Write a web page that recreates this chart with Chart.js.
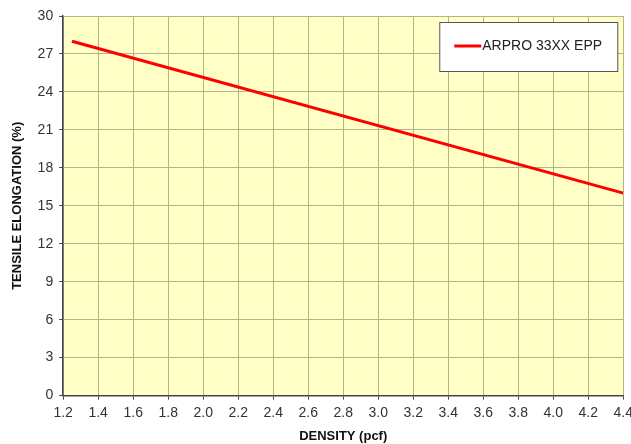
<!DOCTYPE html>
<html>
<head>
<meta charset="utf-8">
<script src="https://cdn.jsdelivr.net/npm/chart.js@4.4.0/dist/chart.umd.min.js"></script>
<style>
  html, body { margin: 0; padding: 0; background: #fff; overflow: hidden; }
  #wrap { width: 631px; height: 444px; overflow: hidden; }
</style>
</head>
<body>
<div id="wrap"><canvas id="chart" width="638" height="444"></canvas></div>
<script>
// ---------------- data ----------------
const seriesName = 'ARPRO 33XX EPP';
const density = [1.25, 4.4];
const elongation = [28, 16];
const xTicks = [1.2, 1.4, 1.6, 1.8, 2.0, 2.2, 2.4, 2.6, 2.8, 3.0, 3.2, 3.4, 3.6, 3.8, 4.0, 4.2, 4.4];
const yTicks = [0, 3, 6, 9, 12, 15, 18, 21, 24, 27, 30];

const FONT = '"Liberation Sans", Arial, sans-serif';

// plot background
const plotBg = {
  id: 'plotBg',
  beforeDraw(chart){
    const a = chart.chartArea, ctx = chart.ctx;
    ctx.save();
    ctx.fillStyle = '#ffffc6';
    ctx.fillRect(a.left, a.top, a.right - a.left, a.bottom - a.top);
    ctx.restore();
  }
};

// boxed legend inside the plot
const boxLegend = {
  id: 'boxLegend',
  afterDraw(chart){
    const ctx = chart.ctx, a = chart.chartArea;
    const ds = chart.data.datasets[0];
    const w = 178, h = 49;
    const x = a.right - w - 6, y = a.top + 6;
    ctx.save();
    ctx.fillStyle = '#ffffff';
    ctx.fillRect(x, y, w, h);
    ctx.strokeStyle = '#555555';
    ctx.lineWidth = 1;
    ctx.strokeRect(x + 0.5, y + 0.5, w, h);
    ctx.strokeStyle = ds.borderColor;
    ctx.lineWidth = 3;
    ctx.beginPath();
    ctx.moveTo(x + 15, y + 24);
    ctx.lineTo(x + 42, y + 24);
    ctx.stroke();
    ctx.fillStyle = '#222';
    ctx.font = '14px ' + FONT;
    ctx.textBaseline = 'middle';
    ctx.fillText(ds.label, x + 43, y + 24);
    ctx.restore();
  }
};

const ctx = document.getElementById('chart').getContext('2d');
new Chart(ctx, {
  type: 'scatter',
  data: {
    datasets: [{
      label: seriesName,
      data: density.map((d, i) => ({ x: d, y: elongation[i] })),
      showLine: true,
      borderColor: '#ff0000',
      backgroundColor: '#ff0000',
      borderWidth: 3,
      pointRadius: 0,
      tension: 0
    }]
  },
  options: {
    responsive: false,
    animation: false,
    layout: { padding: { left: 10, right: 3, top: 16, bottom: 0 } },
    plugins: { legend: { display: false }, tooltip: { enabled: false } },
    scales: {
      x: {
        type: 'linear',
        min: xTicks[0], max: xTicks[xTicks.length - 1],
        afterBuildTicks: s => { s.ticks = xTicks.map(v => ({ value: v })); },
        ticks: {
          callback: v => v.toFixed(1),
          color: '#333', font: { family: FONT, size: 14 }, padding: 5, maxRotation: 0
        },
        grid: { color: '#b4b48a', tickColor: '#444', tickLength: 4 },
        border: { color: '#444', width: 1.5 },
        title: {
          display: true, text: 'DENSITY (pcf)', color: '#111',
          font: { family: FONT, size: 13, weight: 'bold' }, padding: { top: 2, bottom: 0 }
        }
      },
      y: {
        min: yTicks[0], max: yTicks[yTicks.length - 1],
        afterBuildTicks: s => { s.ticks = yTicks.map(v => ({ value: v })); },
        ticks: { color: '#333', font: { family: FONT, size: 14 }, padding: 6 },
        grid: { color: '#b4b48a', tickColor: '#444', tickLength: 4 },
        border: { color: '#444', width: 1.5 },
        title: {
          display: true, text: 'TENSILE ELONGATION (%)', color: '#111',
          font: { family: FONT, size: 13, weight: 'bold' }, padding: { top: 0, bottom: 6 }
        }
      }
    }
  },
  plugins: [plotBg, boxLegend]
});
</script>
</body>
</html>
